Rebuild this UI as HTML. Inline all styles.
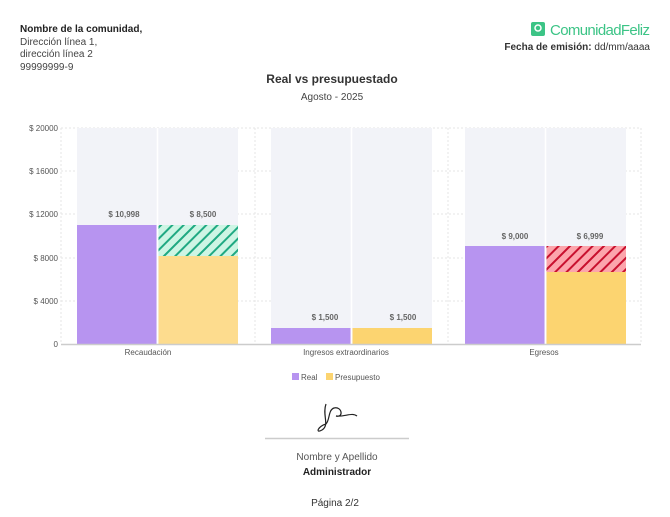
<!DOCTYPE html>
<html><head><meta charset="utf-8"><style>
html,body{margin:0;padding:0;background:#fff;width:670px;height:517px;overflow:hidden}
svg{display:block}
text{font-family:"Liberation Sans",sans-serif}
</style></head><body>
<svg width="670" height="517" viewBox="0 0 670 517" xmlns="http://www.w3.org/2000/svg">
<defs>
<pattern id="hg" width="8" height="8" patternUnits="userSpaceOnUse" patternTransform="rotate(45)">
<rect width="8" height="8" fill="#cdf5e4"/><rect width="2" height="8" fill="#1fa982"/></pattern>
<pattern id="hr" width="8" height="8" patternUnits="userSpaceOnUse" patternTransform="rotate(45)">
<rect width="8" height="8" fill="#fca5ac"/><rect width="2" height="8" fill="#c8102e"/></pattern>
</defs>
<text x="20" y="32" font-size="10" font-weight="bold" fill="#222">Nombre de la comunidad,</text>
<text x="20" y="45" font-size="10" fill="#444">Dirección línea 1,</text>
<text x="20" y="57" font-size="10" fill="#444">dirección línea 2</text>
<text x="20" y="70" font-size="10" fill="#444">99999999-9</text>
<rect x="531" y="22" width="14" height="14" rx="2" fill="#3cc486"/>
<circle cx="538" cy="28" r="3" fill="none" stroke="#fff" stroke-width="1.5"/>
<text x="650" y="35" font-size="15" fill="#3cc486" text-anchor="end" textLength="100">ComunidadFeliz</text>
<text x="650" y="50" font-size="10" fill="#333" text-anchor="end"><tspan font-weight="bold">Fecha de emisión:</tspan> dd/mm/aaaa</text>
<text x="332" y="83" font-size="12" font-weight="bold" fill="#333" text-anchor="middle">Real vs presupuestado</text>
<text x="332" y="100" font-size="10" fill="#444" text-anchor="middle">Agosto - 2025</text>
<g stroke="#e6e6e6" stroke-dasharray="2,2" stroke-width="1">
<line x1="61" y1="128" x2="641" y2="128"/><line x1="61" y1="171" x2="641" y2="171"/>
<line x1="61" y1="214" x2="641" y2="214"/><line x1="61" y1="258" x2="641" y2="258"/>
<line x1="61" y1="301" x2="641" y2="301"/>
<line x1="61" y1="128" x2="61" y2="344"/><line x1="255" y1="128" x2="255" y2="344"/>
<line x1="448" y1="128" x2="448" y2="344"/><line x1="641" y1="128" x2="641" y2="344"/>
</g>
<g fill="#f2f3f8">
<rect x="77" y="128" width="161" height="216"/><rect x="271" y="128" width="161" height="216"/><rect x="465" y="128" width="161" height="216"/>
</g>
<g stroke="#fff" stroke-width="1.5"><line x1="157.5" y1="128" x2="157.5" y2="344"/><line x1="351.5" y1="128" x2="351.5" y2="344"/><line x1="545.5" y1="128" x2="545.5" y2="344"/></g>
<rect x="77" y="225" width="79.5" height="119" fill="#b794f0"/>
<rect x="158.5" y="225" width="79.5" height="31" fill="url(#hg)"/>
<rect x="158.5" y="256" width="79.5" height="88" fill="#fddc8e"/>
<rect x="271" y="328" width="79.5" height="16" fill="#b794f0"/>
<rect x="352.5" y="328" width="79.5" height="16" fill="#fcd470"/>
<rect x="465" y="246" width="79.5" height="98" fill="#b794f0"/>
<rect x="546.5" y="246" width="79.5" height="26" fill="url(#hr)"/>
<rect x="546.5" y="272" width="79.5" height="72" fill="#fcd470"/>
<line x1="61" y1="344.5" x2="641" y2="344.5" stroke="#ccc" stroke-width="1.5"/>
<g font-size="8" fill="#666" font-weight="bold" text-anchor="middle">
<text x="124" y="217">$ 10,998</text><text x="203" y="217">$ 8,500</text>
<text x="325" y="320">$ 1,500</text><text x="403" y="320">$ 1,500</text>
<text x="515" y="239">$ 9,000</text><text x="590" y="239">$ 6,999</text>
</g>
<g font-size="8" fill="#555" text-anchor="end">
<text x="58" y="131">$ 20000</text><text x="58" y="174">$ 16000</text><text x="58" y="217">$ 12000</text>
<text x="58" y="261">$ 8000</text><text x="58" y="304">$ 4000</text><text x="58" y="347">0</text>
</g>
<g font-size="8" fill="#555" text-anchor="middle">
<text x="148" y="355">Recaudación</text><text x="346" y="355">Ingresos extraordinarios</text><text x="544" y="355">Egresos</text>
</g>
<rect x="292" y="373" width="7" height="7" fill="#b794f0"/><text x="301" y="380" font-size="8" fill="#555">Real</text>
<rect x="326" y="373" width="7" height="7" fill="#fcd470"/><text x="335" y="380" font-size="8" fill="#555">Presupuesto</text>
<path d="M326 404 C322 415 330 425 322 430 C315 434 318 426 326 424 C330 420 328 410 334 408 C342 406 344 418 336 416 C345 417 352 412 357 416" fill="none" stroke="#222" stroke-width="1.2"/>
<line x1="265" y1="438.5" x2="409" y2="438.5" stroke="#ccc" stroke-width="1.5"/>
<text x="337" y="460" font-size="10" fill="#555" text-anchor="middle">Nombre y Apellido</text>
<text x="337" y="475" font-size="10" font-weight="bold" fill="#222" text-anchor="middle">Administrador</text>
<text x="335" y="506" font-size="10" fill="#333" text-anchor="middle">Página 2/2</text>
</svg>
</body></html>
